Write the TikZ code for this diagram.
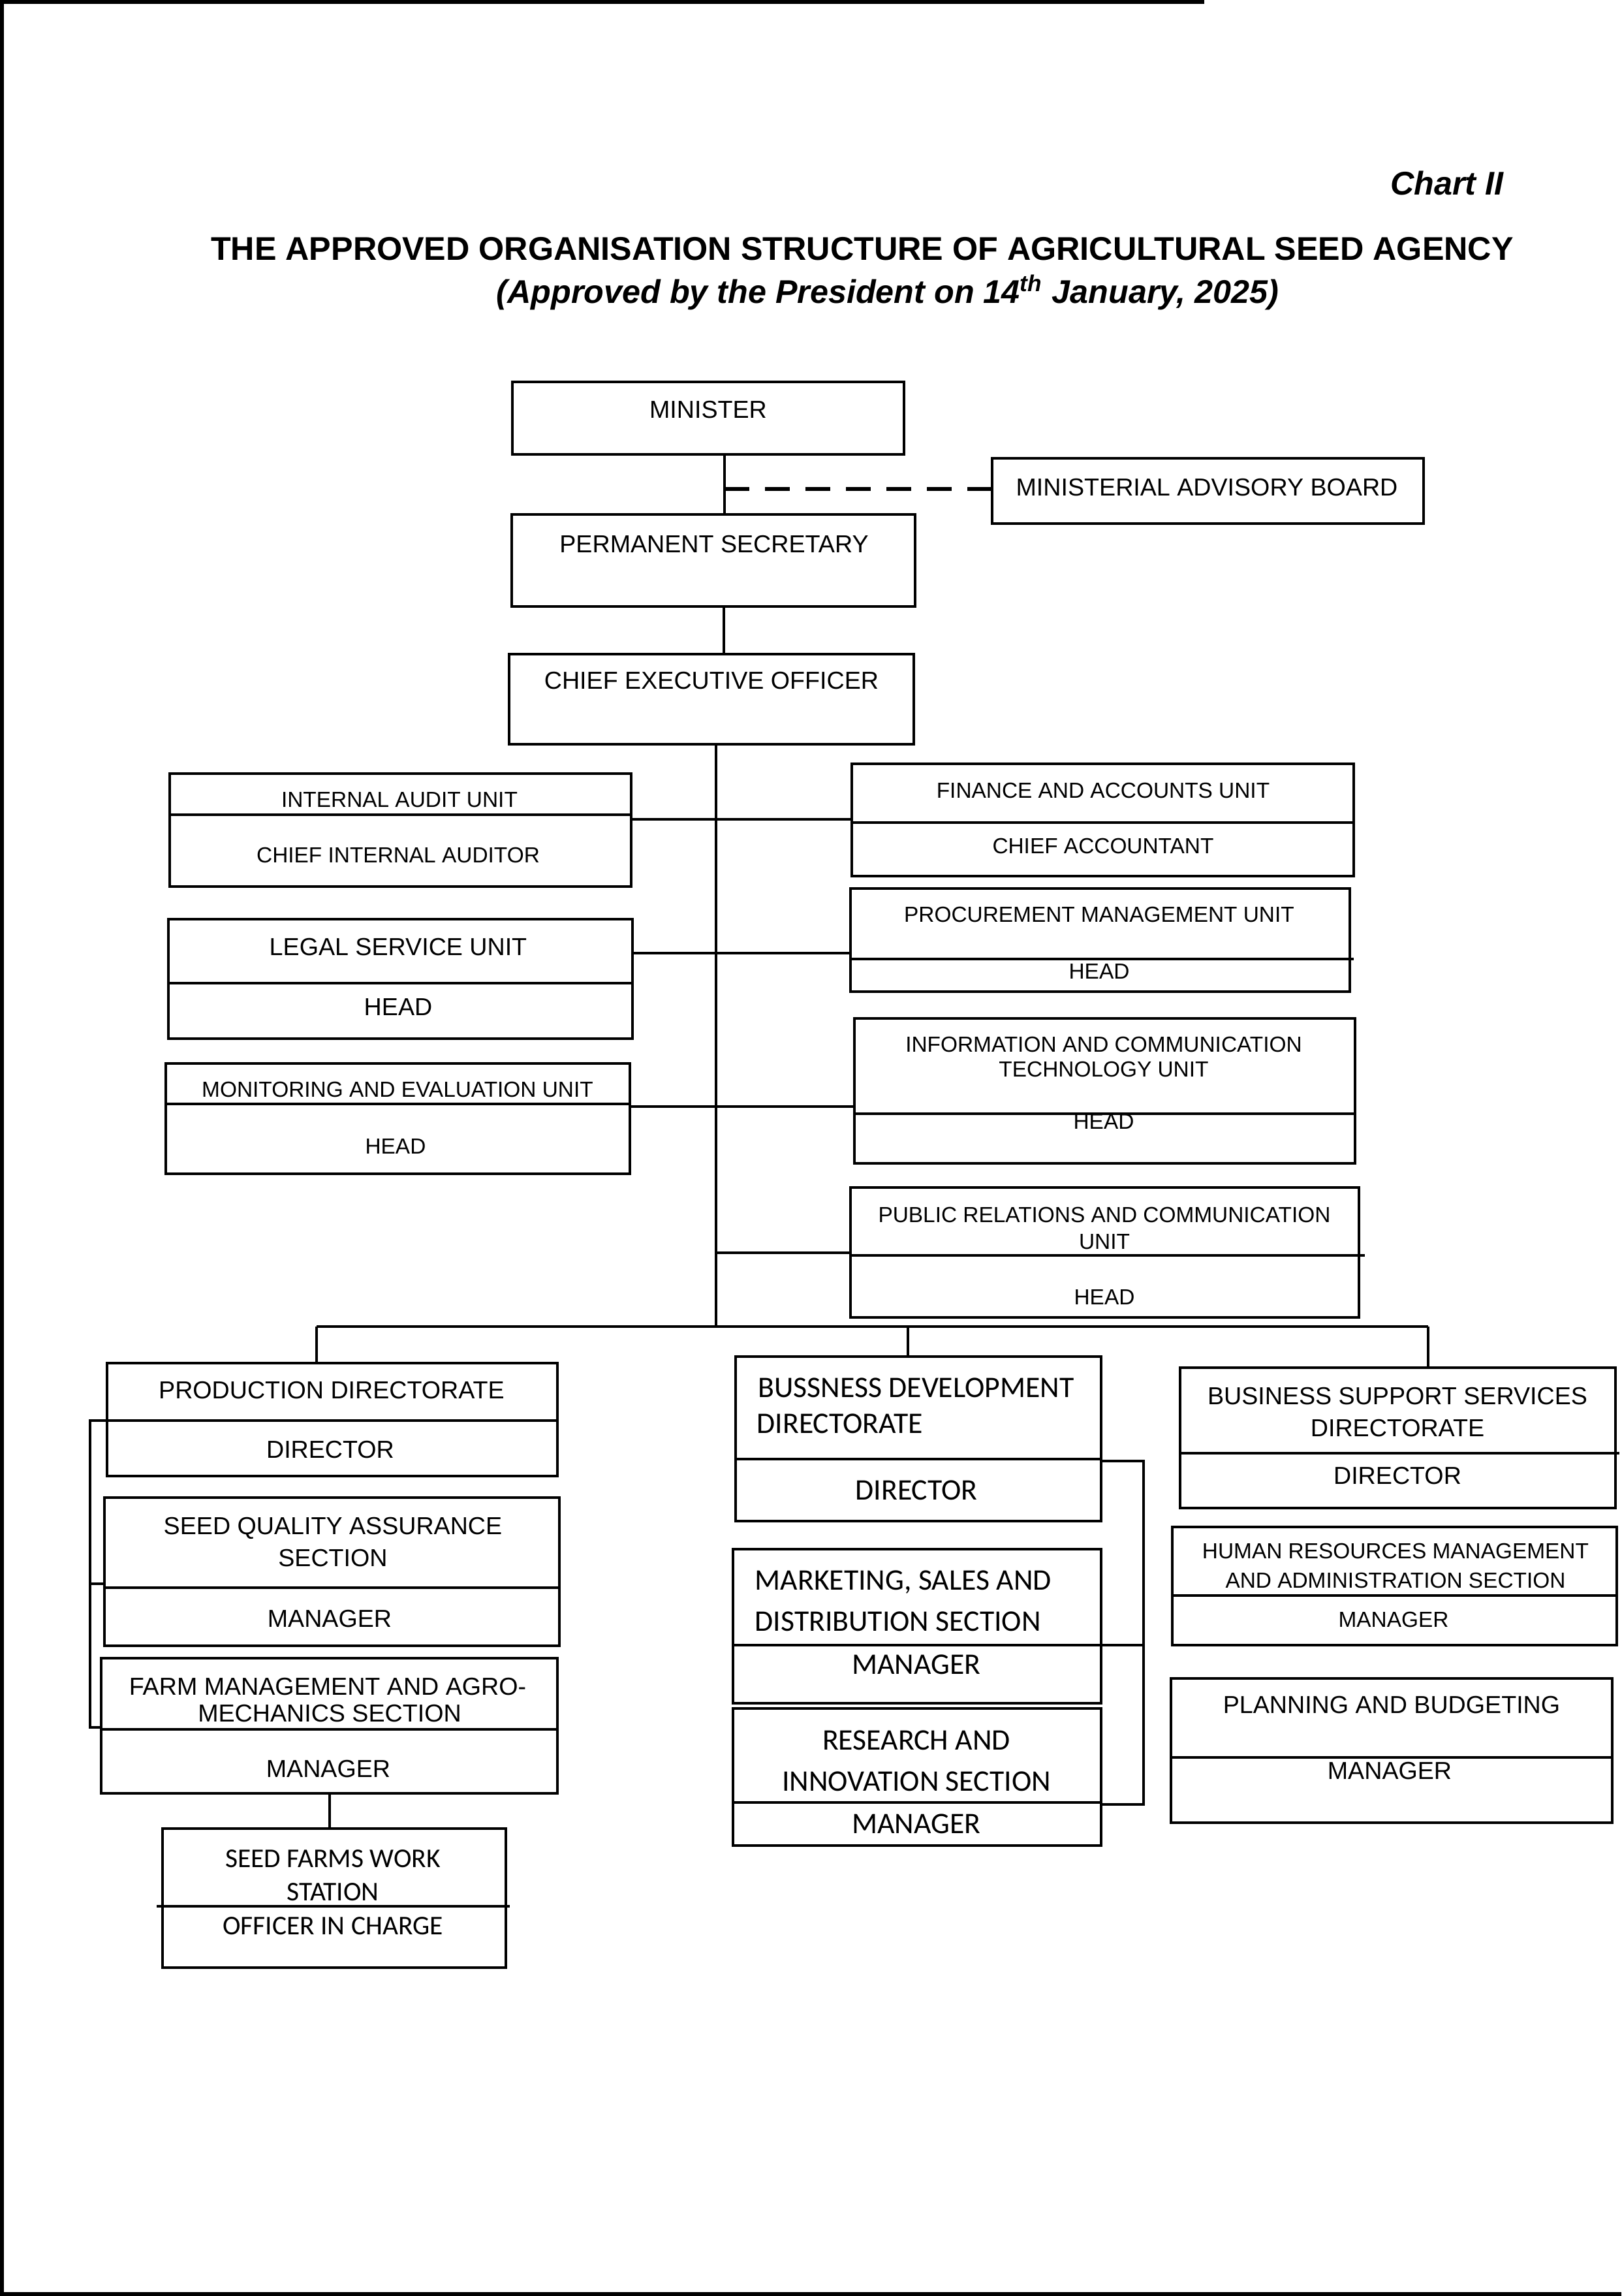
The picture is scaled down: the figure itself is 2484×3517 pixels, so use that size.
\documentclass[tikz,border=0pt]{standalone}
\usepackage{fontspec}
\setmainfont{Liberation Sans}
\newfontfamily\calib{Carlito}
\usetikzlibrary{fit}
\tikzset{
  boxst/.style={draw, line width=1.1pt, inner sep=0pt, fit={#1}},
  dv/.style={line width=1.1pt},
  cn/.style={line width=0.9pt},
  dsh/.style={line width=1.6pt, dash pattern=on 0.38cm off 0.24cm},
  tA/.style={font=\fontsize{10.7pt}{12pt}\selectfont, inner sep=0pt, text height=7.66pt, text depth=0pt},
  tB/.style={font=\fontsize{9.5pt}{11pt}\selectfont, inner sep=0pt, text height=6.8pt, text depth=0pt},
  tC/.style={font=\calib\fontsize{13pt}{15pt}\selectfont, inner sep=0pt, text height=8.37pt, text depth=0pt},
  tD/.style={font=\calib\fontsize{11.8pt}{14pt}\selectfont, inner sep=0pt, text height=7.6pt, text depth=0pt},
  ttl/.style={font=\bfseries\fontsize{14.3pt}{17pt}\selectfont, inner sep=0pt, text height=10.2pt, text depth=0pt},
  ttli/.style={font=\bfseries\itshape\fontsize{14.3pt}{17pt}\selectfont, inner sep=0pt, text height=10.2pt, text depth=0pt}
}
\begin{document}
\begin{tikzpicture}[x=0.01cm, y=-0.01cm]
\useasboundingbox[fill=white] (0,0) rectangle (2484,3517);
% scan border
\fill (0,0) rectangle (6,3517);
\fill (0,0) rectangle (1845,6);
\fill (0,3511) rectangle (2484,3517);

% titles
\node[ttli, anchor=east] (chart) at (2304,281) {Chart II};
\node[ttl] (title) at (1321,381) {THE APPROVED ORGANISATION STRUCTURE OF AGRICULTURAL SEED AGENCY};
\node[ttli] (subtitle) at (1360,447) {(Approved by the President on 14\textsuperscript{th} January, 2025)};

% top chain
\node[boxst={(785,585) (1385,696)}] (min) {};
\node[tA] (min-t) at (1085,627) {MINISTER};
\node[boxst={(1520,702) (2181,802)}] (mab) {};
\node[tA] (mab-t) at (1849,746) {MINISTERIAL ADVISORY BOARD};
\node[boxst={(784,788) (1402,929)}] (ps) {};
\node[tA] (ps-t) at (1094,833) {PERMANENT SECRETARY};
\node[boxst={(780,1002) (1400,1140)}] (ceo) {};
\node[tA] (ceo-t) at (1090,1042) {CHIEF EXECUTIVE OFFICER};

% units left
\node[boxst={(260,1185) (967,1358)}] (ia) {};
\draw[dv] (260,1248) -- (967,1248);
\node[tB] (ia-t1) at (612,1225) {INTERNAL AUDIT UNIT};
\node[tB] (ia-t2) at (610,1310) {CHIEF INTERNAL AUDITOR};

\node[boxst={(258,1408) (969,1591)}] (legal) {};
\draw[dv] (258,1506) -- (969,1506);
\node[tA] (legal-t1) at (610,1450) {LEGAL SERVICE UNIT};
\node[tA] (legal-t2) at (610,1542) {HEAD};

\node[boxst={(254,1629) (965,1798)}] (me) {};
\draw[dv] (254,1691) -- (965,1691);
\node[tB] (me-t1) at (609,1669) {MONITORING AND EVALUATION UNIT};
\node[tB] (me-t2) at (606,1756) {HEAD};

% units right
\node[boxst={(1305,1170) (2074,1342)}] (fin) {};
\draw[dv] (1305,1260) -- (2074,1260);
\node[tB] (fin-t1) at (1690,1211) {FINANCE AND ACCOUNTS UNIT};
\node[tB] (fin-t2) at (1690,1296) {CHIEF ACCOUNTANT};

\node[boxst={(1303,1361) (2068,1519)}] (proc) {};
\draw[dv] (1303,1469) -- (2074,1469);
\node[tB] (proc-t1) at (1684,1401) {PROCUREMENT MANAGEMENT UNIT};
\node[tB] (proc-t2) at (1684,1488) {HEAD};

\node[boxst={(1309,1560) (2076,1782)}] (ict) {};
\draw[dv] (1309,1706) -- (2076,1706);
\node[tB] (ict-t1) at (1691,1600) {INFORMATION AND COMMUNICATION};
\node[tB] (ict-t1b) at (1691,1638) {TECHNOLOGY UNIT};
\node[tB] (ict-t2) at (1691,1718) {HEAD};

\node[boxst={(1303,1819) (2082,2018)}] (pr) {};
\draw[dv] (1303,1923) -- (2091,1923);
\node[tB] (pr-t1) at (1692,1861) {PUBLIC RELATIONS AND COMMUNICATION};
\node[tB] (pr-t1b) at (1692,1902) {UNIT};
\node[tB] (pr-t2) at (1692,1987) {HEAD};

% production column
\node[boxst={(164,2088) (854,2261)}] (prod) {};
\draw[dv] (164,2176) -- (854,2176);
\node[tA] (prod-t1) at (508,2129) {PRODUCTION DIRECTORATE};
\node[tA] (prod-t2) at (506,2220) {DIRECTOR};

\node[boxst={(160,2294) (857,2521)}] (sqa) {};
\draw[dv] (160,2432) -- (857,2432);
\node[tA] (sqa-t1) at (510,2337) {SEED QUALITY ASSURANCE};
\node[tA] (sqa-t1b) at (510,2386) {SECTION};
\node[tA] (sqa-t2) at (505,2479) {MANAGER};

\node[boxst={(155,2540) (854,2747)}] (farm) {};
\draw[dv] (155,2649) -- (854,2649);
\node[tA] (farm-t1) at (502,2583) {FARM MANAGEMENT AND AGRO-};
\node[tA] (farm-t1b) at (505,2624) {MECHANICS SECTION};
\node[tA] (farm-t2) at (503,2709) {MANAGER};

\node[boxst={(249,2801) (775,3014)}] (sf) {};
\draw[dv] (240,2920) -- (781,2920);
\node[tD] (sf-t1) at (510,2847) {SEED FARMS WORK};
\node[tD] (sf-t1b) at (510,2898) {STATION};
\node[tD] (sf-t2) at (510,2950) {OFFICER IN CHARGE};

% business development column
\node[boxst={(1127,2078) (1687,2330)}] (bd) {};
\draw[dv] (1127,2235) -- (1687,2235);
\node[tC, anchor=west] (bd-t1) at (1161,2126) {BUSSNESS DEVELOPMENT};
\node[tC, anchor=west] (bd-t1b) at (1159,2181) {DIRECTORATE};
\node[tC] (bd-t2) at (1404,2283) {DIRECTOR};

\node[boxst={(1123,2373) (1687,2609)}] (mkt) {};
\draw[dv] (1123,2520) -- (1687,2520);
\node[tC, anchor=west] (mkt-t1) at (1156,2421) {MARKETING, SALES AND};
\node[tC, anchor=west] (mkt-t1b) at (1156,2484) {DISTRIBUTION SECTION};
\node[tC] (mkt-t2) at (1404,2550) {MANAGER};

\node[boxst={(1123,2617) (1687,2827)}] (res) {};
\draw[dv] (1123,2761) -- (1687,2761);
\node[tC] (res-t1) at (1404,2666) {RESEARCH AND};
\node[tC] (res-t1b) at (1404,2729) {INNOVATION SECTION};
\node[tC] (res-t2) at (1404,2794) {MANAGER};

% business support column
\node[boxst={(1808,2095) (2475,2310)}] (bss) {};
\draw[dv] (1808,2226) -- (2481,2226);
\node[tA] (bss-t1) at (2141,2138) {BUSINESS SUPPORT SERVICES};
\node[tA] (bss-t1b) at (2141,2187) {DIRECTORATE};
\node[tA] (bss-t2) at (2141,2260) {DIRECTOR};

\node[boxst={(1796,2339) (2477,2520)}] (hr) {};
\draw[dv] (1796,2444) -- (2477,2444);
\node[tB] (hr-t1) at (2138,2376) {HUMAN RESOURCES MANAGEMENT};
\node[tB] (hr-t1b) at (2138,2421) {AND ADMINISTRATION SECTION};
\node[tB] (hr-t2) at (2135,2481) {MANAGER};

\node[boxst={(1794,2571) (2470,2792)}] (pb) {};
\draw[dv] (1794,2692) -- (2470,2692);
\node[tA] (pb-t1) at (2132,2611) {PLANNING AND BUDGETING};
\node[tA] (pb-t2) at (2129,2712) {MANAGER};

% connectors
\coordinate (j1) at (1110,749);
\draw[cn] (min.south -| j1) -- (ps.north -| j1);
\draw[dsh] (j1) -- (mab.west |- j1);
\coordinate (j2) at (1109,960);
\draw[cn] (ps.south -| j2) -- (ceo.north -| j2);
\coordinate (spine) at (1097,2032);
\draw[cn] (ceo.south -| spine) -- (spine);
\coordinate (r1) at (1097,1255);
\draw[cn] (ia.east |- r1) -- (fin.west |- r1);
\coordinate (r2) at (1097,1460);
\draw[cn] (legal.east |- r2) -- (proc.west |- r2);
\coordinate (r3) at (1097,1695);
\draw[cn] (me.east |- r3) -- (ict.west |- r3);
\coordinate (r4) at (1097,1919);
\draw[cn] (r4) -- (pr.west |- r4);
\coordinate (busL) at (485,2032);
\coordinate (busM) at (1391,2032);
\coordinate (busR) at (2188,2032);
\draw[cn] (busL) -- (busR);
\draw[cn] (busL) -- (prod.north -| busL);
\draw[cn] (busM) -- (bd.north -| busM);
\draw[cn] (busR) -- (bss.north -| busR);
\coordinate (pk1) at (138,2176);
\coordinate (pk2) at (138,2426);
\coordinate (pk3) at (138,2646);
\draw[cn] (prod.west |- pk1) -- (pk1) -- (pk3) -- (farm.west |- pk3);
\draw[cn] (pk2) -- (sqa.west |- pk2);
\coordinate (fs) at (505,2770);
\draw[cn] (farm.south -| fs) -- (sf.north -| fs);
\coordinate (bk1) at (1752,2238);
\coordinate (bk2) at (1752,2520);
\coordinate (bk3) at (1752,2764);
\draw[cn] (bd.east |- bk1) -- (bk1) -- (bk3) -- (res.east |- bk3);
\draw[cn] (bk2) -- (mkt.east |- bk2);
\end{tikzpicture}
\end{document}
